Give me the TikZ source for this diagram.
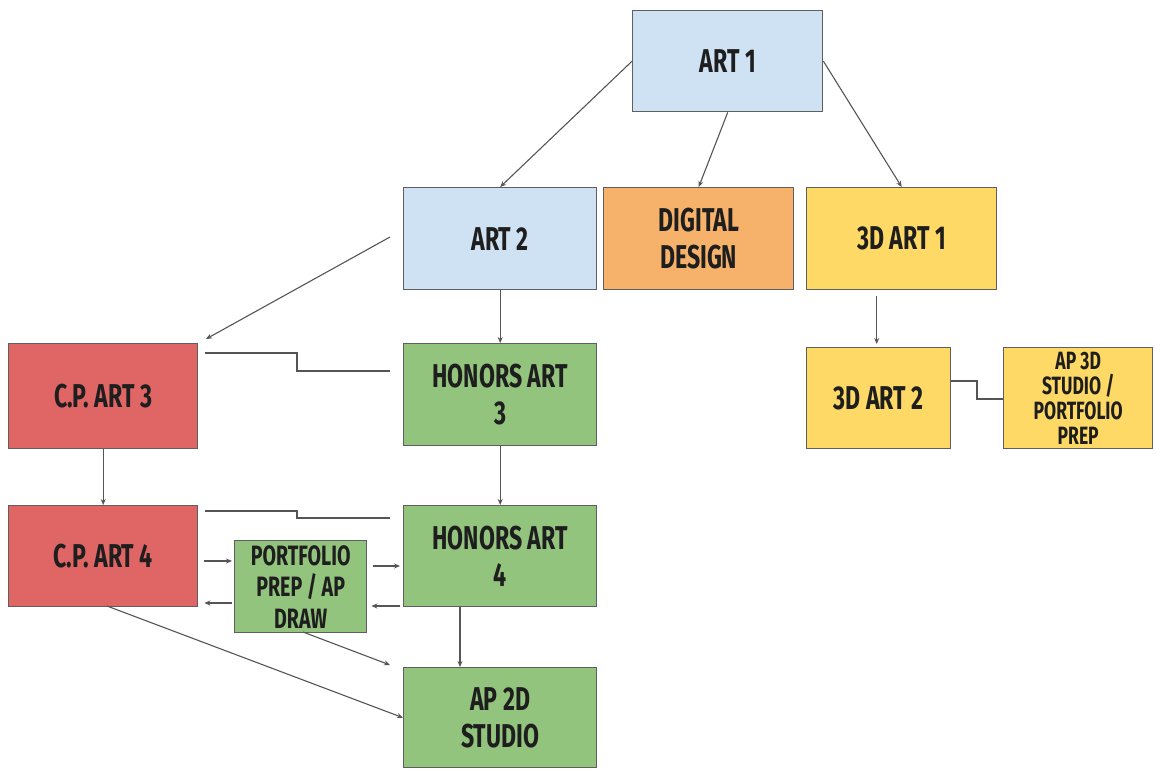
\documentclass[tikz,border=0pt]{standalone}
\usepackage{fontspec}
\setmainfont{Fira Sans}[FakeStretch=0.7]
\usetikzlibrary{arrows.meta,calc}
\definecolor{cblue}{HTML}{CFE2F3}
\definecolor{corange}{HTML}{F6B26B}
\definecolor{cyellow}{HTML}{FFD966}
\definecolor{cred}{HTML}{E06666}
\definecolor{cgreen}{HTML}{93C47D}
\definecolor{cborder}{HTML}{5F5F5F}
\definecolor{cline}{HTML}{555555}
\definecolor{ctext}{HTML}{1E1E1E}
\begin{document}
\begin{tikzpicture}[x=1pt,y=-1pt,
  box/.style={draw=cborder,line width=1.4pt,anchor=north west,inner sep=0pt,
    align=center,text=ctext,font=\bfseries\fontsize{33}{37}\selectfont},
  smallbox/.style={box,font=\bfseries\fontsize{28}{31.5}\selectfont},
  conn/.style={draw=cline,line width=1.1pt},
  arr/.style={conn,-{Stealth[length=6pt,width=5pt]}}]
\useasboundingbox (0,0) rectangle (1155,771);
\fill[white] (0,0) rectangle (1155,771);
\node[box,fill=cblue,minimum width=190pt,minimum height=101pt] (art1) at (632,10) {ART 1};
\node[box,fill=cblue,minimum width=193pt,minimum height=102pt] (art2) at (403,187) {ART 2};
\node[box,fill=corange,minimum width=190pt,minimum height=102pt] (dd) at (603,187) {DIGITAL\\DESIGN};
\node[box,fill=cyellow,minimum width=190pt,minimum height=102pt] (d31) at (806,187) {3D ART 1};
\node[box,fill=cred,minimum width=189pt,minimum height=105pt] (cp3) at (8,343) {C.P. ART 3};
\node[box,fill=cgreen,minimum width=193pt,minimum height=102pt] (h3) at (403,343) {HONORS ART\\3};
\node[box,fill=cyellow,minimum width=144pt,minimum height=101pt] (d32) at (806,347) {3D ART 2};
\node[box,fill=cyellow,minimum width=149pt,minimum height=101pt,font=\bfseries\fontsize{25}{25}\selectfont] (ap3d) at (1003,347) {AP 3D\\STUDIO /\\PORTFOLIO\\PREP};
\node[smallbox,fill=cgreen,minimum width=132pt,minimum height=92pt] (pp) at (234,540) {PORTFOLIO\\PREP / AP\\DRAW};
\node[box,fill=cred,minimum width=189pt,minimum height=101pt] (cp4) at (8,505) {C.P. ART 4};
\node[box,fill=cgreen,minimum width=193pt,minimum height=101pt] (h4) at (403,505) {HONORS ART\\4};
\node[box,fill=cgreen,minimum width=193pt,minimum height=100pt] (ap2d) at (403,667) {AP 2D\\STUDIO};
% free ends
\coordinate (a2l) at (390,237);
\coordinate (c3t) at (206,339);
\coordinate (c3r) at (205,353);
\coordinate (h3l) at (390,371);
\coordinate (c4r) at (205,511);
\coordinate (h4l) at (390,518);
\coordinate (ppb) at (303,632);
\coordinate (apc) at (390,665);
% connectors
\draw[arr] (art1.west) -- (art2.north);
\draw[arr] (art1.south) -- (dd.north);
\draw[arr] (art1.east) -- (d31.north);
\draw[arr] (a2l) -- (c3t);
\draw[arr] (art2.south) -- (h3.north);
\draw[arr] ($(d31.south)+(-25,6)$) -- ($(d32.north)+(-2,-3)$);
\draw[conn] (c3r) -- (297,353) |- (h3l);
\draw[conn] (d32.east |- 0,381) -- (977,381) |- (ap3d.west |- 0,399);
\draw[arr] (cp3.south) -- (cp4.north);
\draw[arr] (h3.south) -- (h4.north);
\draw[conn] (c4r) -- (297,511) |- (h4l);
\draw[arr,shorten <=6pt,shorten >=2pt] (cp4.east |- 0,561) -- (pp.west |- 0,561);
\draw[arr,shorten <=2pt,shorten >=6pt] (pp.west |- 0,603) -- (cp4.east |- 0,603);
\draw[arr,shorten <=6pt,shorten >=3pt] (pp.east |- 0,566) -- (h4.west |- 0,566);
\draw[arr,shorten <=3pt,shorten >=4pt] (h4.west |- 0,606) -- (pp.east |- 0,606);
\draw[arr] (h4.south -| 460,0) -- (ap2d.north -| 460,0);
\draw[arr] (ppb) -- (apc);
\draw[arr] (107,606) -- (ap2d.west);
\end{tikzpicture}
\end{document}
